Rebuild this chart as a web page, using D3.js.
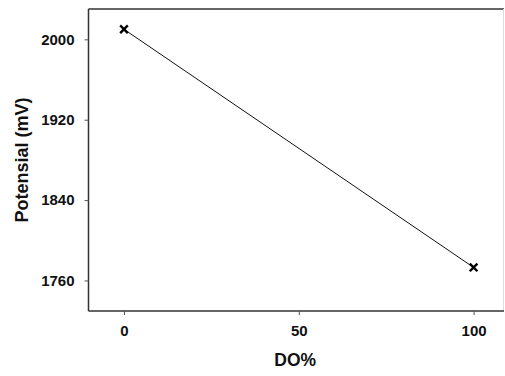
<!DOCTYPE html>
<html>
<head>
<meta charset="utf-8">
<script src="https://cdn.jsdelivr.net/npm/d3@7"></script>
<style>
  body { margin: 0; background: #fff; }
  text { font-family: "Liberation Sans", Arial, sans-serif; font-weight: bold; fill: #111; }
</style>
</head>
<body>
<script>
// data
var doPercent = [0, 100];
var potential = [2010, 1773];
var xTicks = [0, 50, 100];
var yTicks = [1760, 1840, 1920, 2000];

var width = 505, height = 376;
var margins = { top: 9, right: 1, bottom: 65, left: 88.5 };

var svg = d3.select("body").append("svg")
  .attr("width", width)
  .attr("height", height);

var xScale = d3.scaleLinear()
  .domain([-10.15, 108.7])
  .range([margins.left, width - margins.right]);
var yScale = d3.scaleLinear()
  .domain([1729.6, 2030.2])
  .range([height - margins.bottom, margins.top]);

var x0 = xScale.range()[0], x1 = xScale.range()[1];
var y0 = yScale.range()[0], y1 = yScale.range()[1];

// frame
svg.append("line").attr("x1", x0).attr("x2", x1).attr("y1", y1).attr("y2", y1)
  .attr("stroke", "#333").attr("stroke-width", 1.5);
svg.append("line").attr("x1", x1 - 0.5).attr("x2", x1 - 0.5).attr("y1", y1).attr("y2", y0)
  .attr("stroke", "#ddd").attr("stroke-width", 1);

var xAxis = d3.axisBottom(xScale).tickValues(xTicks).tickSize(4).tickPadding(10)
  .tickFormat(d3.format("d"));
var yAxis = d3.axisLeft(yScale).tickValues(yTicks).tickSize(4).tickPadding(10)
  .tickFormat(d3.format("d"));

var gx = svg.append("g").attr("transform", "translate(0," + y0 + ")").call(xAxis);
var gy = svg.append("g").attr("transform", "translate(" + x0 + ",0)").call(yAxis);

[gx, gy].forEach(function(g) {
  g.select(".domain").attr("stroke", "#333").attr("stroke-width", 1.5);
  g.selectAll(".tick line").attr("stroke", "#555").attr("stroke-width", 1);
  g.selectAll(".tick text").style("font-size", "15px").attr("fill", "#111");
});
gx.select(".domain").attr("d", "M" + x0 + ",0H" + x1);
gy.select(".domain").attr("d", "M0," + y0 + "V" + y1);

// line
var pts = doPercent.map(function(d, i) { return [d, potential[i]]; });
var line = d3.line()
  .x(function(d) { return xScale(d[0]); })
  .y(function(d) { return yScale(d[1]); });

svg.append("path")
  .datum(pts)
  .attr("fill", "none")
  .attr("stroke", "#111")
  .attr("stroke-width", 1)
  .attr("d", line);

// x markers
svg.selectAll(".mark")
  .data(pts)
  .enter().append("path")
  .attr("class", "mark")
  .attr("transform", function(d) { return "translate(" + xScale(d[0]) + "," + yScale(d[1]) + ")"; })
  .attr("d", d3.symbol().type(d3.symbolX).size(40))
  .attr("fill", "none")
  .attr("stroke", "#000")
  .attr("stroke-width", 2.4);

// axis titles
svg.append("text")
  .attr("x", (x0 + x1) / 2 - 1)
  .attr("y", 366)
  .attr("text-anchor", "middle")
  .style("font-size", "17.5px")
  .text("DO%");

svg.append("text")
  .attr("transform", "translate(28,160) rotate(-90)")
  .attr("text-anchor", "middle")
  .style("font-size", "18px")
  .text("Potensial (mV)");
</script>
</body>
</html>
